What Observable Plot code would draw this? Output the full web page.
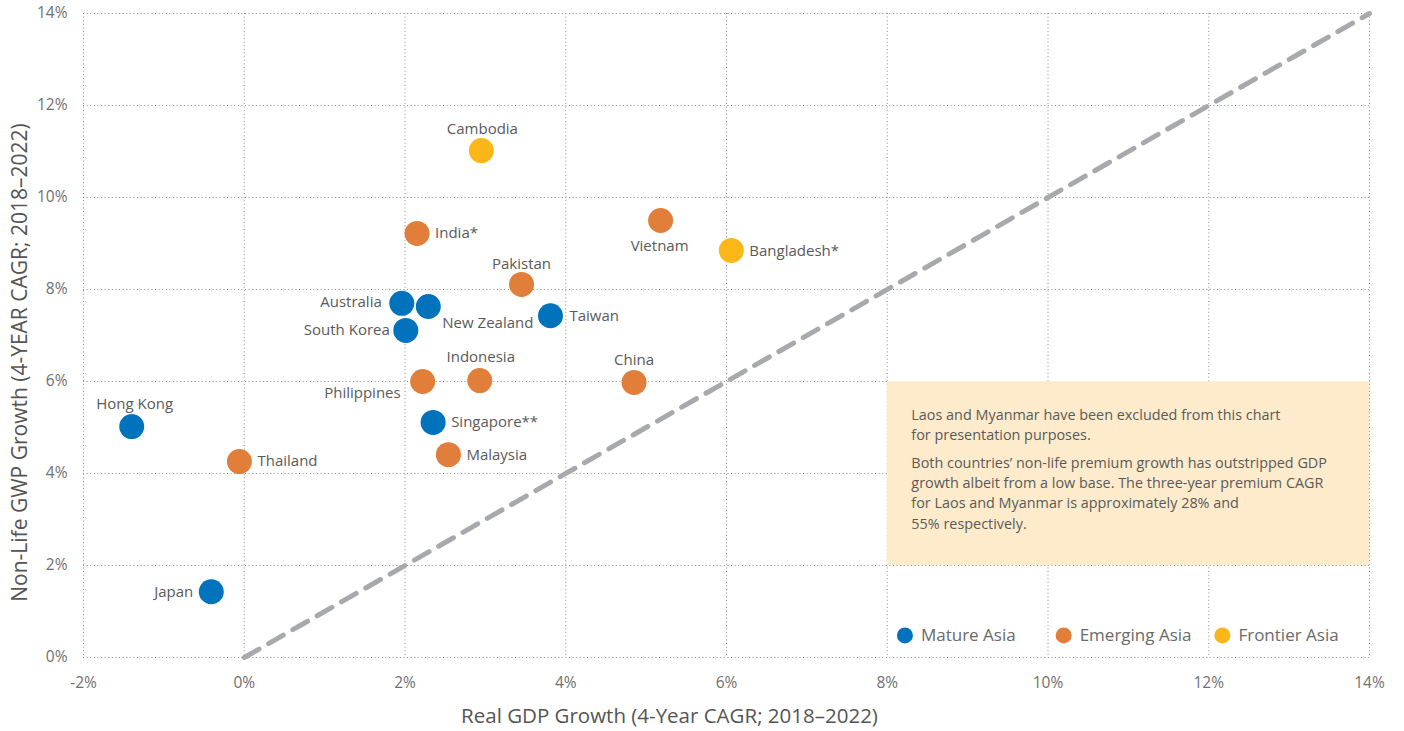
<!DOCTYPE html>
<html><head><meta charset="utf-8">
<script src="https://cdn.jsdelivr.net/npm/d3@7"></script>
<script src="https://cdn.jsdelivr.net/npm/@observablehq/plot@0.6"></script>
<style>
body{margin:0;background:#fff}
#chart svg{font-family:"Open Sans",sans-serif;display:block}
</style>
</head><body><div id="chart"></div>
<script>
const countries = ["Hong Kong","Thailand","Japan","Australia","New Zealand","South Korea","India*","Cambodia","Pakistan","Taiwan","Vietnam","Bangladesh*","Indonesia","Philippines","China","Singapore**","Malaysia"];
const gdpGrowth = [-1.40,-0.06,-0.41,1.96,2.29,2.01,2.15,2.95,3.45,3.81,5.18,6.06,2.93,2.22,4.85,2.35,2.54];
const gwpGrowth = [5.02,4.26,1.43,7.70,7.63,7.11,9.22,11.02,8.11,7.43,9.50,8.85,6.02,6.00,5.98,5.11,4.41];
const groups = ["Mature Asia","Emerging Asia","Mature Asia","Mature Asia","Mature Asia","Mature Asia","Emerging Asia","Frontier Asia","Emerging Asia","Mature Asia","Emerging Asia","Frontier Asia","Emerging Asia","Emerging Asia","Emerging Asia","Mature Asia","Emerging Asia"];
const groupNames = ["Mature Asia","Emerging Asia","Frontier Asia"];
const groupColors = ["#0073bc","#e07e3a","#fbb717"];
const xTicks = [-2,0,2,4,6,8,10,12,14];
const yTicks = [0,2,4,6,8,10,12,14];
const parityLine = [0,14];
const noteBox = {x1:8,x2:14,y1:2,y2:6};
const note1 = "Laos and Myanmar have been excluded from this chart\nfor presentation purposes.";
const note2 = "Both countries\u2019 non-life premium growth has outstripped GDP\ngrowth albeit from a low base. The three-year premium CAGR\nfor Laos and Myanmar is approximately 28% and\n55% respectively.";
const xLabel = "Real GDP Growth (4-Year CAGR; 2018\u20132022)";
const yLabel = "Non-Life GWP Growth (4-YEAR CAGR; 2018\u20132022)";

// label placement style: [dx, dy, textAnchor]
const placement = {
  "Hong Kong":[3,-22,"middle"], "Thailand":[18,0,"start"], "Japan":[-18,0,"end"],
  "Australia":[-20,-1,"end"], "New Zealand":[14,17,"start"], "South Korea":[-16,0,"end"],
  "India*":[18,0,"start"], "Cambodia":[1,-21,"middle"], "Pakistan":[0,-20,"middle"],
  "Taiwan":[19,0,"start"], "Vietnam":[-1,26,"middle"], "Bangladesh*":[18,1,"start"],
  "Indonesia":[1,-23,"middle"], "Philippines":[-22,12,"end"], "China":[0,-22,"middle"],
  "Singapore**":[18,0,"start"], "Malaysia":[18,1,"start"]
};

const data = countries.map((c,i)=>({country:c, gdp:gdpGrowth[i], gwp:gwpGrowth[i], group:groups[i]}));
const colorOf = g => groupColors[groupNames.indexOf(g)];

const labelMarks = data.map(d => {
  const [dx,dy,anchor] = placement[d.country];
  return Plot.text([d], {x:"gdp", y:"gwp", text:"country", dx, dy, textAnchor:anchor, fill:"#5a5a5a", fontSize:15});
});

const legend = groupNames.map((g,i)=>({g, lx: 8.22 + i*1.975, ly: 0.48}));

const chart = Plot.plot({
  width:1404, height:731,
  marginLeft:83, marginRight:35, marginTop:13, marginBottom:74,
  x:{domain:[-2,14]},
  y:{domain:[0,14]},
  style:{fontFamily:"'Open Sans',sans-serif", background:"#fff"},
  marks:[
    Plot.gridX(xTicks,{stroke:"#8a8a8a", strokeOpacity:1, strokeDasharray:"1,2.6"}),
    Plot.gridY(yTicks,{stroke:"#8a8a8a", strokeOpacity:1, strokeDasharray:"1,2.6"}),
    Plot.rect([noteBox],{x1:"x1",x2:"x2",y1:"y1",y2:"y2",fill:"#fdebcc"}),
    Plot.text([note1],{x:8.30, y:5.09, text:d=>d, textAnchor:"start", lineHeight:1.40, fontSize:14.4, fill:"#5a5a5a"}),
    Plot.text([note2],{x:8.30, y:3.60, text:d=>d, textAnchor:"start", lineHeight:1.40, fontSize:14.4, fill:"#5a5a5a"}),
    Plot.line(parityLine.map(v=>({v})),{x:"v",y:"v",stroke:"#a7a9ac",strokeWidth:5,strokeDasharray:"17,11"}),
    Plot.dot(data,{x:"gdp",y:"gwp",r:12.5,fill:d=>colorOf(d.group)}),
    ...labelMarks,
    Plot.dot(legend,{x:"lx",y:"ly",r:8,fill:d=>colorOf(d.g)}),
    Plot.text(legend,{x:"lx",y:"ly",text:"g",dx:16,textAnchor:"start",fontSize:17,fill:"#6a6a6a"}),
    Plot.axisX(xTicks,{tickSize:0,tickPadding:19,tickFormat:d=>d+"%",fontSize:15.5,fill:"#707070",label:null}),
    Plot.axisY(yTicks,{tickSize:0,tickPadding:16,tickFormat:d=>d+"%",fontSize:15.5,fill:"#707070",label:null}),
    Plot.text([xLabel],{frameAnchor:"bottom",lineAnchor:"middle",textAnchor:"middle",dx:-57,dy:59,text:d=>d,fontSize:20.5,fill:"#555"}),
    Plot.text([yLabel],{frameAnchor:"left",lineAnchor:"middle",textAnchor:"middle",dx:-63,dy:27,rotate:-90,text:d=>d,fontSize:21,fill:"#555"})
  ]
});
document.getElementById("chart").appendChild(chart);
</script>
</body></html>
